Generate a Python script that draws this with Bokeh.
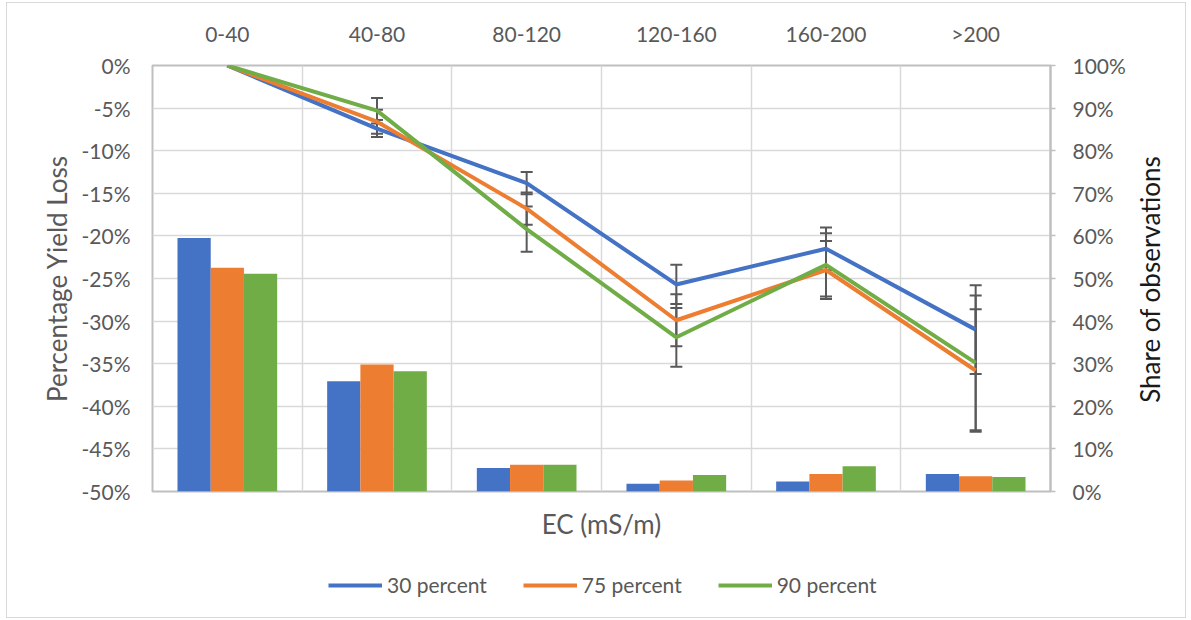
from bokeh.plotting import figure
from bokeh.layouts import column, row
from bokeh.models import (FactorRange, Range1d, LinearAxis, CategoricalAxis, FixedTicker,
                          PrintfTickFormatter, Grid, Whisker, TeeHead, ColumnDataSource,
                          Legend, LegendItem, Label)
from bokeh.transform import dodge
from bokeh.embed import file_html
from bokeh.resources import INLINE
import math

# EC classes (mS/m)
categories = ["0-40", "40-80", "80-120", "120-160", "160-200", ">200"]
series_names = ["30 percent", "75 percent", "90 percent"]
colors = ["#4472C4", "#ED7D31", "#70AD47"]

# Percentage yield loss per EC class
loss_30 = [0.0, -7.4, -13.8, -25.7, -21.5, -31.0]
loss_75 = [0.0, -6.6, -16.8, -29.9, -24.0, -35.8]
loss_90 = [0.0, -5.3, -19.2, -31.9, -23.4, -34.9]

# Error margins (+/- percentage points)
err_30 = [0.0, 1.0, 1.3, 2.3, 2.5, 5.2]
err_75 = [0.0, 1.4, 1.9, 3.05, 3.4, 7.2]
err_90 = [0.0, 1.5, 2.65, 3.45, 3.7, 7.9]

# Share of observations per EC class (%)
share_30 = [59.5, 25.9, 5.5, 1.8, 2.35, 4.1]
share_75 = [52.5, 29.8, 6.3, 2.6, 4.1, 3.6]
share_90 = [51.1, 28.2, 6.3, 3.9, 5.9, 3.4]

left_ticks = [-50, -45, -40, -35, -30, -25, -20, -15, -10, -5, 0]
right_ticks = [0, 10, 20, 30, 40, 50, 60, 70, 80, 90, 100]

FONT = "Lato"
FS = "21px"        # tick labels and legend
FS_TITLE = "26px"  # axis titles
GREY_TEXT = "#595959"
GRID = "#d9d9d9"
AXIS = "#bfbfbf"

# panel sizes (px)
TOP, FRAME_H, BOTTOM = 62, 426, 60
LEFT, FRAME_W, RIGHT = 145, 898, 87
MAIN_H = TOP + FRAME_H + BOTTOM
SIDE_W = 48
LEGEND_H = 66

p = figure(x_range=FactorRange(*categories), y_range=Range1d(-50, 0),
           frame_width=FRAME_W, frame_height=FRAME_H,
           min_border_left=LEFT, min_border_right=RIGHT,
           min_border_top=TOP, min_border_bottom=BOTTOM,
           x_axis_location="above", output_backend="svg", toolbar_location=None)
p.background_fill_color = "white"
p.border_fill_color = "white"
p.outline_line_color = AXIS
p.outline_line_width = 2

p.extra_y_ranges = {"share": Range1d(0, 100)}

# top category axis
xa = p.xaxis[0]
xa.major_tick_line_color = None
xa.minor_tick_line_color = None
xa.axis_line_color = None
xa.major_tick_out = 0
xa.major_tick_in = 0
xa.major_label_standoff = 20
xa.major_label_text_font = FONT
xa.major_label_text_font_size = FS
xa.major_label_text_color = GREY_TEXT

# left axis: yield loss
ya = p.yaxis[0]
ya.ticker = FixedTicker(ticks=left_ticks)
ya.formatter = PrintfTickFormatter(format="%d%%")
ya.major_tick_line_color = None
ya.minor_tick_line_color = None
ya.axis_line_color = None
ya.major_tick_out = 0
ya.major_tick_in = 0
ya.major_label_standoff = 22
ya.major_label_text_font = FONT
ya.major_label_text_font_size = FS
ya.major_label_text_color = GREY_TEXT
ya.axis_label = "Percentage Yield Loss"
ya.axis_label_text_font = FONT
ya.axis_label_text_font_size = FS_TITLE
ya.axis_label_text_font_style = "normal"
ya.axis_label_text_color = GREY_TEXT
ya.axis_label_standoff = 6

# right axis: share of observations
ra = LinearAxis(y_range_name="share", ticker=FixedTicker(ticks=right_ticks),
                formatter=PrintfTickFormatter(format="%d%%"))
ra.axis_line_color = AXIS
ra.axis_line_width = 2
ra.major_tick_line_color = AXIS
ra.major_tick_line_width = 1.5
ra.major_tick_out = 5
ra.major_tick_in = 0
ra.minor_tick_line_color = None
ra.major_label_standoff = 17
ra.major_label_text_font = FONT
ra.major_label_text_font_size = FS
ra.major_label_text_color = GREY_TEXT
p.add_layout(ra, "right")

# bottom axis carries only the title
ba = CategoricalAxis(ticker=FixedTicker(ticks=[]))
ba.major_tick_line_color = None
ba.minor_tick_line_color = None
ba.axis_line_color = None
ba.major_tick_out = 0
ba.major_tick_in = 0
ba.major_label_standoff = 0
ba.axis_label = "EC (mS/m)"
ba.axis_label_text_font = FONT
ba.axis_label_text_font_size = FS_TITLE
ba.axis_label_text_font_style = "normal"
ba.axis_label_text_color = GREY_TEXT
ba.axis_label_standoff = 16
p.add_layout(ba, "below")

# grids: horizontal every 5 %, vertical between classes
p.ygrid.grid_line_color = GRID
p.ygrid.grid_line_width = 1.5
p.xgrid.grid_line_color = None
p.add_layout(Grid(dimension=0, ticker=FixedTicker(ticks=[1, 2, 3, 4, 5]),
                  grid_line_color=GRID, grid_line_width=1.5))

# bars on the secondary axis
bar_src = ColumnDataSource(dict(cat=categories, s30=share_30, s75=share_75, s90=share_90))
bw = 0.222
for off, col, c in zip([-bw, 0.0, bw], ["s30", "s75", "s90"], colors):
    p.vbar(x=dodge("cat", off, range=p.x_range), top=col, bottom=0, width=bw,
           source=bar_src, y_range_name="share", fill_color=c, line_color=None)

# error bars and lines
losses = [loss_30, loss_75, loss_90]
errs = [err_30, err_75, err_90]
for loss, err in zip(losses, errs):
    cats = [k for k, e in zip(categories, err) if e > 0]
    up = [v + e for v, e in zip(loss, err) if e > 0]
    lo = [v - e for v, e in zip(loss, err) if e > 0]
    wsrc = ColumnDataSource(dict(x=cats, upper=up, lower=lo))
    w = Whisker(base="x", upper="upper", lower="lower", source=wsrc,
                line_color="#595959", line_width=2,
                upper_head=TeeHead(size=12, line_color="#595959", line_width=2),
                lower_head=TeeHead(size=12, line_color="#595959", line_width=2))
    p.add_layout(w)

for loss, c in zip(losses, colors):
    p.line(x=categories, y=loss, line_color=c, line_width=4, line_join="round")


def blank_panel(w, h):
    f = figure(width=w, height=h, x_range=Range1d(0, w), y_range=Range1d(0, h),
               min_border=0, x_axis_location=None, y_axis_location=None,
               output_backend="svg", toolbar_location=None)
    f.grid.visible = False
    f.outline_line_color = None
    f.background_fill_color = "white"
    f.border_fill_color = "white"
    return f


# right-hand title strip, text reads bottom to top
side = blank_panel(SIDE_W, MAIN_H)
side.add_layout(Label(x=12, y=MAIN_H - 275, text="Share of observations",
                      angle=math.pi / 2, text_align="center", text_baseline="middle",
                      text_font=FONT, text_font_size=FS_TITLE, text_color="#1a1a1a"))

# legend strip below the chart; its line renderers only supply the swatch styles
leg = blank_panel(LEFT + FRAME_W + RIGHT + SIDE_W, LEGEND_H)
items = []
for name, c in zip(series_names, colors):
    r = leg.line(x=[float("nan")], y=[float("nan")], line_color=c, line_width=4)
    items.append(LegendItem(label=name, renderers=[r]))
legend = Legend(items=items, orientation="horizontal", location=(321, 20),
                glyph_width=54, glyph_height=24, label_standoff=5, spacing=36,
                label_text_font=FONT, label_text_font_size=FS,
                label_text_color=GREY_TEXT, border_line_color=None,
                background_fill_alpha=0, padding=0, margin=0)
leg.add_layout(legend)

layout = column(row(p, side, spacing=0), leg, spacing=0)
layout.styles = {"border": "1px solid #d9d9d9", "margin-left": "6px", "margin-top": "2px",
                 "background-color": "white"}

open("out.html", "w").write(file_html(layout, INLINE))
